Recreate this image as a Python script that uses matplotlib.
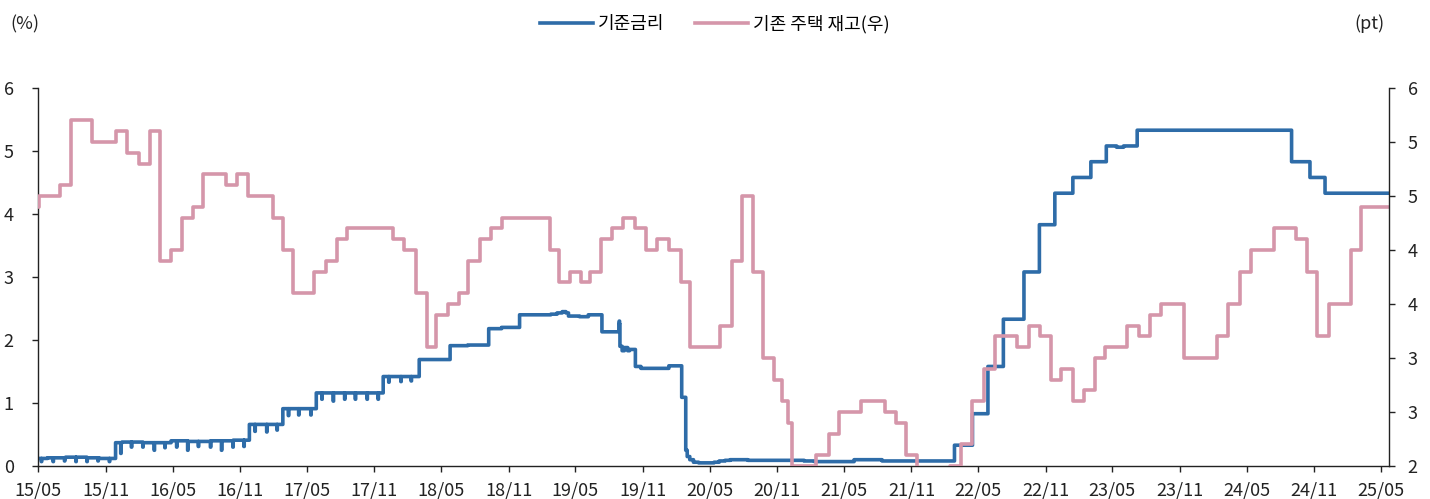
import numpy as np
import pandas as pd
import matplotlib
matplotlib.use('Agg')
import matplotlib.pyplot as plt
import matplotlib.dates as mdates
from matplotlib.ticker import FuncFormatter

plt.rcParams['font.family'] = ['Noto Sans CJK KR', 'DejaVu Sans']

# 기준금리 (effective rate, change points)
rate_dates = ['2015-05-20', '2015-06-15', '2015-08-03', '2015-09-15', '2015-10-01', '2015-11-02',
              '2015-12-17', '2016-01-04', '2016-03-01', '2016-05-16', '2016-07-01', '2016-09-01',
              '2016-11-01', '2016-12-15', '2017-03-16', '2017-06-15', '2017-12-14', '2018-03-22',
              '2018-06-14', '2018-08-01', '2018-09-27', '2018-11-01', '2018-12-20', '2019-03-15',
              '2019-04-01', '2019-04-15', '2019-04-25', '2019-05-02', '2019-06-01', '2019-06-25',
              '2019-07-05', '2019-08-01', '2019-09-16', '2019-09-17', '2019-09-18', '2019-09-19',
              '2019-09-25', '2019-10-01', '2019-10-10', '2019-10-15', '2019-10-31', '2019-11-15',
              '2020-01-30', '2020-03-05', '2020-03-16', '2020-03-20', '2020-03-27', '2020-04-06',
              '2020-04-20', '2020-06-01', '2020-06-15', '2020-07-01', '2020-07-15', '2020-09-01',
              '2021-02-01', '2021-03-01', '2021-06-17', '2021-09-01', '2022-03-17', '2022-05-05',
              '2022-06-16', '2022-07-28', '2022-09-22', '2022-11-03', '2022-12-15', '2023-02-02',
              '2023-03-23', '2023-05-04', '2023-06-01', '2023-06-20', '2023-07-27', '2024-09-19',
              '2024-11-08', '2024-12-19', '2025-06-11']
rate_values = [0.12, 0.13, 0.14, 0.14, 0.13, 0.12,
               0.37, 0.38, 0.37, 0.40, 0.39, 0.40,
               0.41, 0.66, 0.91, 1.16, 1.42, 1.69,
               1.91, 1.92, 2.18, 2.20, 2.40, 2.41,
               2.43, 2.45, 2.43, 2.38, 2.37, 2.40,
               2.40, 2.13, 2.25, 2.30, 2.25, 1.90,
               1.83, 1.88, 1.83, 1.85, 1.58, 1.55,
               1.59, 1.09, 0.25, 0.15, 0.10, 0.06,
               0.05, 0.06, 0.08, 0.09, 0.10, 0.09,
               0.08, 0.07, 0.10, 0.08, 0.33, 0.83,
               1.58, 2.33, 3.08, 3.83, 4.33, 4.58,
               4.83, 5.08, 5.06, 5.08, 5.33, 4.83,
               4.58, 4.33, 4.33]

# month-end dips of the rate
dip_dates = pd.date_range('2015-05-01', '2018-02-28', freq='BME')
dip_values = [0.07, 0.07, 0.08, 0.07, 0.07, 0.08, 0.07, 0.20,
              0.30, 0.30, 0.25, 0.29, 0.30, 0.25, 0.31, 0.30, 0.25, 0.30, 0.31, 0.55,
              0.54, 0.57, 0.80, 0.81, 0.81, 1.06, 1.03, 1.06, 1.06, 1.06, 1.06, 1.33,
              1.34, 1.35]

# 기존 주택 재고 (right axis)
stock_dates = ['2015-05-20', '2015-05-23', '2015-07-18', '2015-08-18', '2015-10-15', '2015-12-18',
               '2016-01-17', '2016-02-20', '2016-03-20', '2016-04-15', '2016-05-17', '2016-06-14',
               '2016-07-15', '2016-08-11', '2016-10-13', '2016-11-10', '2016-12-12', '2017-02-16',
               '2017-03-16', '2017-04-12', '2017-06-10', '2017-07-11', '2017-08-09', '2017-09-07',
               '2018-01-10', '2018-02-09', '2018-03-13', '2018-04-11', '2018-05-08', '2018-06-08',
               '2018-07-08', '2018-08-03', '2018-09-03', '2018-10-03', '2018-11-03', '2019-03-12',
               '2019-04-07', '2019-05-05', '2019-06-05', '2019-06-30', '2019-07-30', '2019-08-28',
               '2019-09-28', '2019-10-29', '2019-11-29', '2019-12-29', '2020-01-30', '2020-03-03',
               '2020-03-27', '2020-06-18', '2020-07-21', '2020-08-17', '2020-09-14', '2020-10-12',
               '2020-11-11', '2020-12-02', '2020-12-20', '2020-12-31', '2021-03-04', '2021-04-09',
               '2021-05-07', '2021-07-07', '2021-09-09', '2021-10-10', '2021-11-06', '2021-12-04',
               '2022-03-04', '2022-04-04', '2022-05-04', '2022-06-04', '2022-07-06', '2022-09-04',
               '2022-10-06', '2022-11-04', '2022-12-04', '2023-01-02', '2023-02-03', '2023-03-05',
               '2023-04-02', '2023-04-30', '2023-06-30', '2023-07-31', '2023-09-01', '2023-10-01',
               '2023-12-01', '2024-02-29', '2024-03-30', '2024-05-01', '2024-06-01', '2024-08-01',
               '2024-10-02', '2024-11-01', '2024-11-27', '2024-12-30', '2025-02-28', '2025-03-27',
               '2025-06-11']
stock_values = [4.4, 4.5, 4.6, 5.2, 5.0, 5.1,
                4.9, 4.8, 5.1, 3.9, 4.0, 4.3,
                4.4, 4.7, 4.6, 4.7, 4.5, 4.3,
                4.0, 3.6, 3.8, 3.9, 4.1, 4.2,
                4.1, 4.0, 3.6, 3.1, 3.4, 3.5,
                3.6, 3.9, 4.1, 4.2, 4.3, 4.0,
                3.7, 3.8, 3.7, 3.8, 4.1, 4.2,
                4.3, 4.2, 4.0, 4.1, 4.0, 3.7,
                3.1, 3.3, 3.9, 4.5, 3.8, 3.0,
                2.8, 2.6, 2.4, 2.0, 2.1, 2.3,
                2.5, 2.6, 2.5, 2.4, 2.1, 1.8,
                2.0, 2.2, 2.6, 2.9, 3.2, 3.1,
                3.3, 3.2, 2.8, 2.9, 2.6, 2.7,
                3.0, 3.1, 3.3, 3.2, 3.4, 3.5,
                3.0, 3.2, 3.5, 3.8, 4.0, 4.2,
                4.1, 3.8, 3.2, 3.5, 4.0, 4.4,
                4.4]

tick_dates = pd.date_range('2015-05-20', '2025-05-20', freq=pd.DateOffset(months=6))

blue = '#2E6CA8'
pink = '#D596AA'
ink = '#222222'

# daily rate series with month-end dips
rate = pd.Series(rate_values, index=pd.to_datetime(rate_dates))
days = pd.date_range(rate.index[0], rate.index[-1], freq='D')
daily = rate.reindex(days).ffill()
daily.loc[dip_dates] = dip_values

stock = pd.Series(stock_values, index=pd.to_datetime(stock_dates))

fig = plt.figure(figsize=(14.3, 4.99), dpi=100)
ax = fig.add_axes([38 / 1430, 1 - 466 / 499, (1389 - 38) / 1430, (466 - 88) / 499])
ax2 = ax.twinx()

l1, = ax.plot(daily.index, daily.values, drawstyle='steps-post', color=blue, lw=2.6,
              label='기준금리')
l2, = ax2.plot(stock.index, stock.values, drawstyle='steps-post', color=pink, lw=2.6,
               label='기존 주택 재고(우)')

ax.set_xlim(pd.Timestamp('2015-05-20'), pd.Timestamp('2025-06-11'))
ax.set_ylim(0, 6)
ax.set_yticks(range(0, 7))
ax2.set_ylim(2, 5.5)
ax2.set_yticks(np.arange(2, 5.51, 0.5))
ax2.yaxis.set_major_formatter(FuncFormatter(lambda v, p: f'{int(np.floor(v + 0.5 + 1e-9))}'))

ax.set_xticks(tick_dates)
ax.xaxis.set_major_formatter(mdates.DateFormatter('%y/%m'))

for a in (ax, ax2):
    a.spines['top'].set_visible(False)
    for s in ('left', 'right', 'bottom'):
        a.spines[s].set_color(ink)
        a.spines[s].set_linewidth(1.0)
ax.spines['right'].set_visible(False)
ax2.spines['left'].set_visible(False)
ax2.spines['bottom'].set_visible(False)

ax.tick_params(axis='y', direction='out', length=4.5, width=1, colors=ink, labelsize=13, pad=13)
ax.tick_params(axis='x', direction='out', length=4.5, width=1, colors=ink, labelsize=13, pad=7)
ax2.tick_params(axis='y', direction='out', length=4.5, width=1, colors=ink, labelsize=13, pad=9)

fig.text(10 / 1430, 1 - 24 / 499, '(%)', fontsize=13, color=ink, ha='left', va='center')
fig.text(1385 / 1430, 1 - 24 / 499, '(pt)', fontsize=13, color=ink, ha='right', va='center')

fig.legend(handles=[l1, l2], loc='center', bbox_to_anchor=(0.5, 1 - 24 / 499), ncol=2,
           frameon=False, fontsize=13, handlelength=2.9, handletextpad=0.3, columnspacing=1.7)

fig.savefig('out.png', dpi=100)
